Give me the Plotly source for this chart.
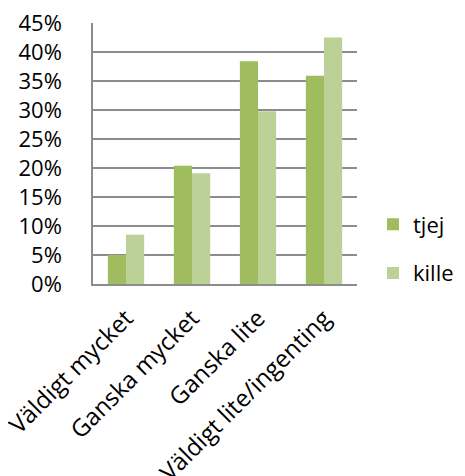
import plotly.graph_objects as go

categories = ["Väldigt mycket", "Ganska mycket", "Ganska lite", "Väldigt lite/ingenting"]
tjej = [5.0, 20.4, 38.4, 35.9]
kille = [8.5, 19.1, 29.8, 42.5]
y_ticks = [0, 5, 10, 15, 20, 25, 30, 35, 40, 45]
y_tick_labels = [f"{v}%" for v in y_ticks]

FONT = "Open Sans"
fig = go.Figure()
fig.add_trace(go.Bar(name="tjej", x=categories, y=tjej, marker_color="#9FBD5E",
                     marker_line_width=0, legendgroup="a"))
fig.add_trace(go.Bar(name="kille", x=categories, y=kille, marker_color="#BCD198",
                     marker_line_width=0, legendgroup="b"))

# page body has an 8px default margin; compensate (extra width lies outside the window)
W, H = 485, 476
L, T, PW, PH = 85, 15, 264, 261
fig.update_layout(
    width=W, height=H,
    margin=dict(l=L, r=W - L - PW, t=T, b=H - T - PH),
    plot_bgcolor="white", paper_bgcolor="white",
    barmode="group", bargap=0.45, bargroupgap=0,
    font=dict(family=FONT, size=22, color="black"),
    showlegend=True,
    legend=dict(x=(365 - L) / PW, y=(T + PH - 241) / PH,
                xanchor="left", yanchor="middle",
                font=dict(family=FONT, size=22), traceorder="grouped",
                tracegroupgap=17, itemwidth=30, bgcolor="rgba(0,0,0,0)"),
)
fig.update_yaxes(range=[0, 45], tickvals=y_ticks, ticktext=y_tick_labels,
                 showgrid=True, gridcolor="#8C8C8C", gridwidth=1.5,
                 showline=True, linecolor="#8C8C8C", linewidth=1.5,
                 ticks="outside", ticklen=25, tickcolor="rgba(0,0,0,0)",
                 ticklabeloverflow="allow",
                 zeroline=False, automargin=False, tickfont=dict(family=FONT, size=22))
fig.update_xaxes(tickangle=-45, showline=True, linecolor="#8C8C8C", linewidth=1.5,
                 showgrid=False, ticks="outside", ticklen=9, tickcolor="rgba(0,0,0,0)",
                 automargin=False, ticklabeloverflow="allow",
                 tickfont=dict(family=FONT, size=24))

fig.write_html("out.html")
